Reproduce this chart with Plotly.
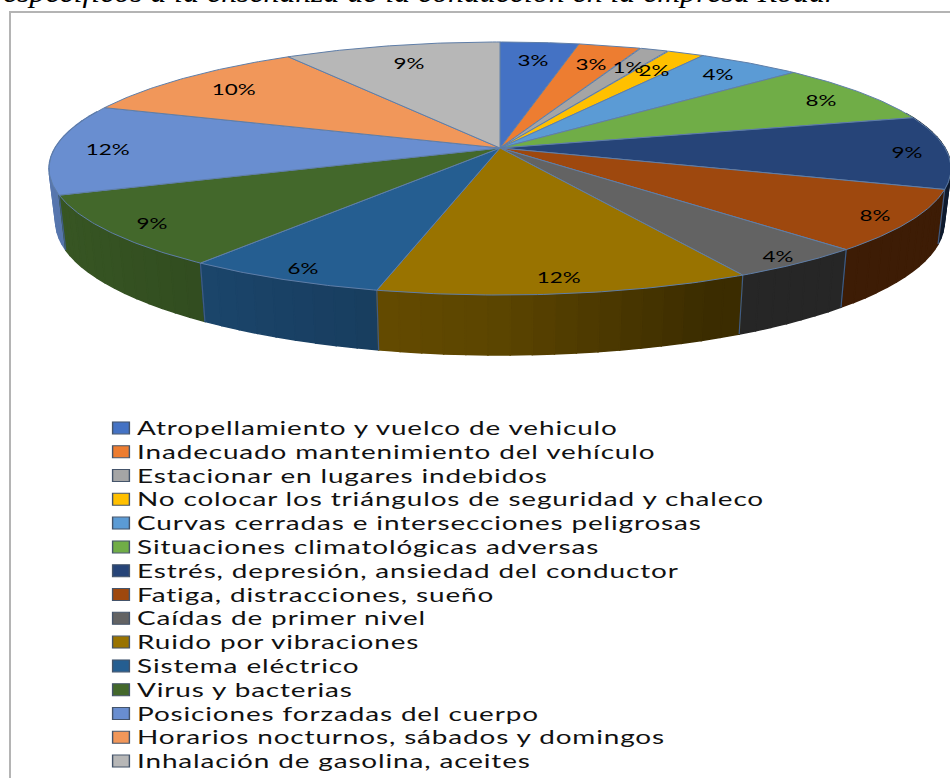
import numpy as np
import plotly.graph_objects as go

categories = [
    "Atropellamiento y vuelco de vehiculo",
    "Inadecuado mantenimiento del vehículo",
    "Estacionar en lugares indebidos",
    "No colocar los triángulos de seguridad y chaleco",
    "Curvas cerradas e intersecciones peligrosas",
    "Situaciones climatológicas adversas",
    "Estrés, depresión, ansiedad del conductor",
    "Fatiga, distracciones, sueño",
    "Caídas de primer nivel",
    "Ruido por vibraciones",
    "Sistema eléctrico",
    "Virus y bacterias",
    "Posiciones forzadas del cuerpo",
    "Horarios nocturnos, sábados y domingos",
    "Inhalación de gasolina, aceites",
]
values = [3.3, 2.6, 1.2, 1.6, 4.4, 7.8, 9.3, 7.8, 4.3, 11.5, 6.2, 9.2, 11.5, 10.3, 9.1]
percent_labels = ["3%", "3%", "1%", "2%", "4%", "8%", "9%", "8%", "4%", "12%", "6%", "9%", "12%", "10%", "9%"]
colors = ["#4472C4", "#ED7D31", "#A5A5A5", "#FFC000", "#5B9BD5", "#70AD47", "#264478", "#9E480E",
          "#636363", "#997300", "#255E91", "#43682B", "#698ED0", "#F1975A", "#B7B7B7"]
label_radius = [0.82, 0.81, 0.81, 0.81, 0.86, 0.88, 0.91, 0.92, 0.94, 0.90, 0.92, 0.90, 0.88, 0.83, 0.82]
title_text = "específicos a la enseñanza de la conducción en la empresa Rodar"

# Perspective view of the pie disc
CX, CY, A, B, K = 500.0, 148.0, 445.0, 123.2, 0.162
DEPTH, SX, SY = 52.6, 0.985, 1.05


def top(theta):
    X, Y = np.sin(theta), -np.cos(theta)
    w = 1 - K * Y
    return CX + A * X / w, CY + B * Y / w


def bottom(theta):
    x, y = top(theta)
    return CX + SX * (x - CX), CY + DEPTH + SY * (y - CY)


def shade(color, f):
    r, g, b = int(color[1:3], 16), int(color[3:5], 16), int(color[5:7], 16)
    return f"rgb({int(r*f)},{int(g*f)},{int(b*f)})"


fractions = np.array(values) / sum(values)
edges = np.concatenate([[0], np.cumsum(fractions)]) * 2 * np.pi

fig = go.Figure()

# Side wall, back to front
strips = []
for i, col in enumerate(colors):
    n = max(2, int(np.degrees(edges[i + 1] - edges[i]) / 2.5) + 1)
    ts = np.linspace(edges[i], edges[i + 1], n + 1)
    for t0, t1 in zip(ts[:-1], ts[1:]):
        mid = (t0 + t1) / 2
        if -np.cos(mid) > -0.3:
            strips.append((-np.cos(mid), t0, t1, col))
strips.sort(key=lambda s: s[0])
for _, t0, t1, col in strips:
    tt = np.linspace(t0, t1, 4)
    xa, ya = top(tt)
    xb, yb = bottom(tt[::-1])
    f = float(np.interp(np.sin((t0 + t1) / 2), [-1, -0.5, 0, 0.4, 1], [0.85, 0.72, 0.60, 0.39, 0.39]))
    c = shade(col, f)
    fig.add_trace(go.Scatter(x=np.r_[xa, xb, xa[0]], y=np.r_[ya, yb, ya[0]], mode="lines", fill="toself",
                             fillcolor=c, line=dict(color=c, width=1.5), showlegend=False, hoverinfo="skip"))

# Wall separators
for e in edges[:-1]:
    if -np.cos(e) > -0.1:
        xa, ya = top(e)
        xb, yb = bottom(e)
        fig.add_trace(go.Scatter(x=[xa, xb], y=[ya, yb], mode="lines", line=dict(color="#3f5c85", width=1.2),
                                 showlegend=False, hoverinfo="skip"))

# Top faces
for i, col in enumerate(colors):
    tt = np.linspace(edges[i], edges[i + 1], 60)
    xa, ya = top(tt)
    fig.add_trace(go.Scatter(x=np.r_[CX, xa, CX], y=np.r_[CY, ya, CY], mode="lines", fill="toself", fillcolor=col,
                             line=dict(color="#5f7ea8", width=1), showlegend=False, name=categories[i],
                             hoverinfo="name"))

# Legend entries
for name, col in zip(categories, colors):
    fig.add_trace(go.Scatter(x=[None], y=[None], mode="markers", name=name,
                             marker=dict(symbol="square", size=12, color=col, line=dict(color="#44546A", width=1))))

annotations = [dict(x=1, y=10, xref="x", yref="y", text=title_text, showarrow=False, xanchor="left", yanchor="bottom",
                    font=dict(family="Liberation Serif", size=30, color="black", style="italic"))]
for i, lab in enumerate(percent_labels):
    m = (edges[i] + edges[i + 1]) / 2
    X, Y = label_radius[i] * np.sin(m), -label_radius[i] * np.cos(m)
    w = 1 - K * Y
    annotations.append(dict(x=CX + A * X / w, y=CY + B * Y / w, xref="x", yref="y", text=lab, showarrow=False,
                            font=dict(family="Lato", size=16, color="black")))

fig.update_layout(
    width=950, height=778, autosize=False,
    margin=dict(l=0, r=0, t=0, b=0), paper_bgcolor="white", plot_bgcolor="white",
    xaxis=dict(range=[0, 950], visible=False, fixedrange=True),
    yaxis=dict(range=[778, 0], visible=False, fixedrange=True),
    annotations=annotations,
    shapes=[dict(type="rect", xref="x", yref="y", x0=10, y0=12, x1=970, y1=800,
                 line=dict(color="#b4b4b4", width=2), layer="below")],
    showlegend=True,
    legend=dict(x=101 / 950, y=1 - 380 / 778, xanchor="left", yanchor="top",
                bgcolor="rgba(0,0,0,0)",
                font=dict(family="Lato", size=16, color="#111111"), itemwidth=30, tracegroupgap=0),
)

post = """
document.documentElement.style.margin='0';
document.body.style.margin='0';
document.querySelectorAll('.legend').forEach(function(g){
  g.setAttribute('transform',(g.getAttribute('transform')||'')+' translate(0,31)');});
document.querySelectorAll('.legend .scrollbox, .legend').forEach(function(s){s.removeAttribute('clip-path');s.style.clipPath='none';});
document.querySelectorAll('.legendtext').forEach(function(t){
  t.style.letterSpacing='0.5px';t.style.transformBox='fill-box';t.style.transformOrigin='left center';
  t.style.transform='translateX(-4px) scale(1.745,1.15)';});
document.querySelectorAll('.legendpoints path').forEach(function(p){
  p.setAttribute('transform',(p.getAttribute('transform')||'')+' scale(1.4,1)');});
document.querySelectorAll('.annotation').forEach(function(a){
  var i=a.getAttribute('data-index'); var t=a.querySelector('text');
  if(t){t.style.transformBox='fill-box';
    if(i==='0'){t.style.transformOrigin='left center';t.style.transform='scale(1.06,1)';}
    else{t.style.transformOrigin='center';t.style.transform='scale(1.4,1)';}}
});
"""
fig.write_html("out.html", post_script=post, config=dict(displayModeBar=False))
